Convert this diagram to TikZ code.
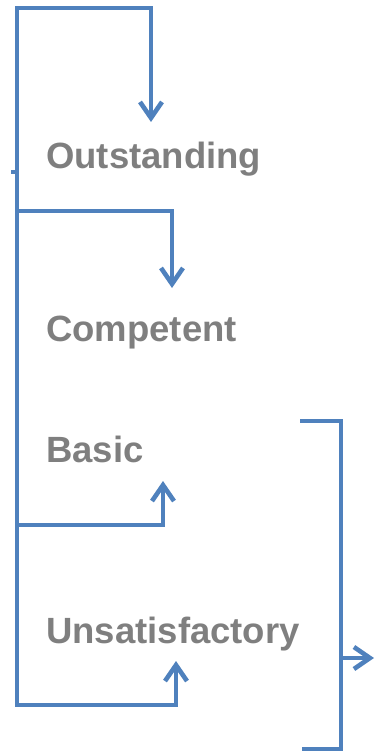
\documentclass[tikz,border=0pt]{standalone}
\usepackage{fontspec}
\setmainfont{Liberation Sans}
\usetikzlibrary{arrows.meta}
\definecolor{linkblue}{HTML}{4F81BD}
\definecolor{labelgray}{HTML}{7F7F7F}
\tikzset{
  link/.style={draw=linkblue, line width=4.6pt, line join=miter},
  linkarrow/.style={link, -{Straight Barb[length=16pt,width=22pt]}},
  level/.style={anchor=base west, inner sep=0pt, text=labelgray,
    font=\fontsize{36.5}{40}\selectfont\bfseries}
}
\begin{document}
\begin{tikzpicture}[x=1pt, y=-1pt]
  \useasboundingbox (0,0) rectangle (376,754);

  % rating levels
  \node[level] (out)   at (46,168) {Outstanding};
  \node[level] (comp)  at (46,341) {Competent};
  \node[level] (basic) at (46,462) {Basic};
  \node[level] (unsat) at (46,643) {Unsatisfactory};

  % shared spine on the left
  \coordinate (stub)  at (11,172);
  \coordinate (spine) at (17,172);

  % arrow targets
  \coordinate (outTip)   at (151,122);
  \coordinate (compTip)  at (172,288);
  \coordinate (basicTip) at (163,481);
  \coordinate (unsatTip) at (176,661);

  % elbow links from the spine to each level
  \draw[linkarrow] (stub) -- (spine) -- (17,8) -- (151,8) -- (outTip);
  \draw[linkarrow] (spine) -- (17,211) -- (172,211) -- (compTip);
  \draw[linkarrow] (spine) -- (17,525) -- (163,525) -- (basicTip);
  \draw[linkarrow] (spine) -- (17,705) -- (176,705) -- (unsatTip);

  % bracket grouping the lower levels
  \coordinate (brTop) at (300,421);
  \coordinate (brBot) at (302,749);
  \coordinate (brMid) at (341,658);
  \coordinate (brOut) at (374,658);
  \draw[link] (brTop) -- (341,421) -- (341,749) -- (brBot);
  \draw[linkarrow] (brMid) -- (brOut);
\end{tikzpicture}
\end{document}
